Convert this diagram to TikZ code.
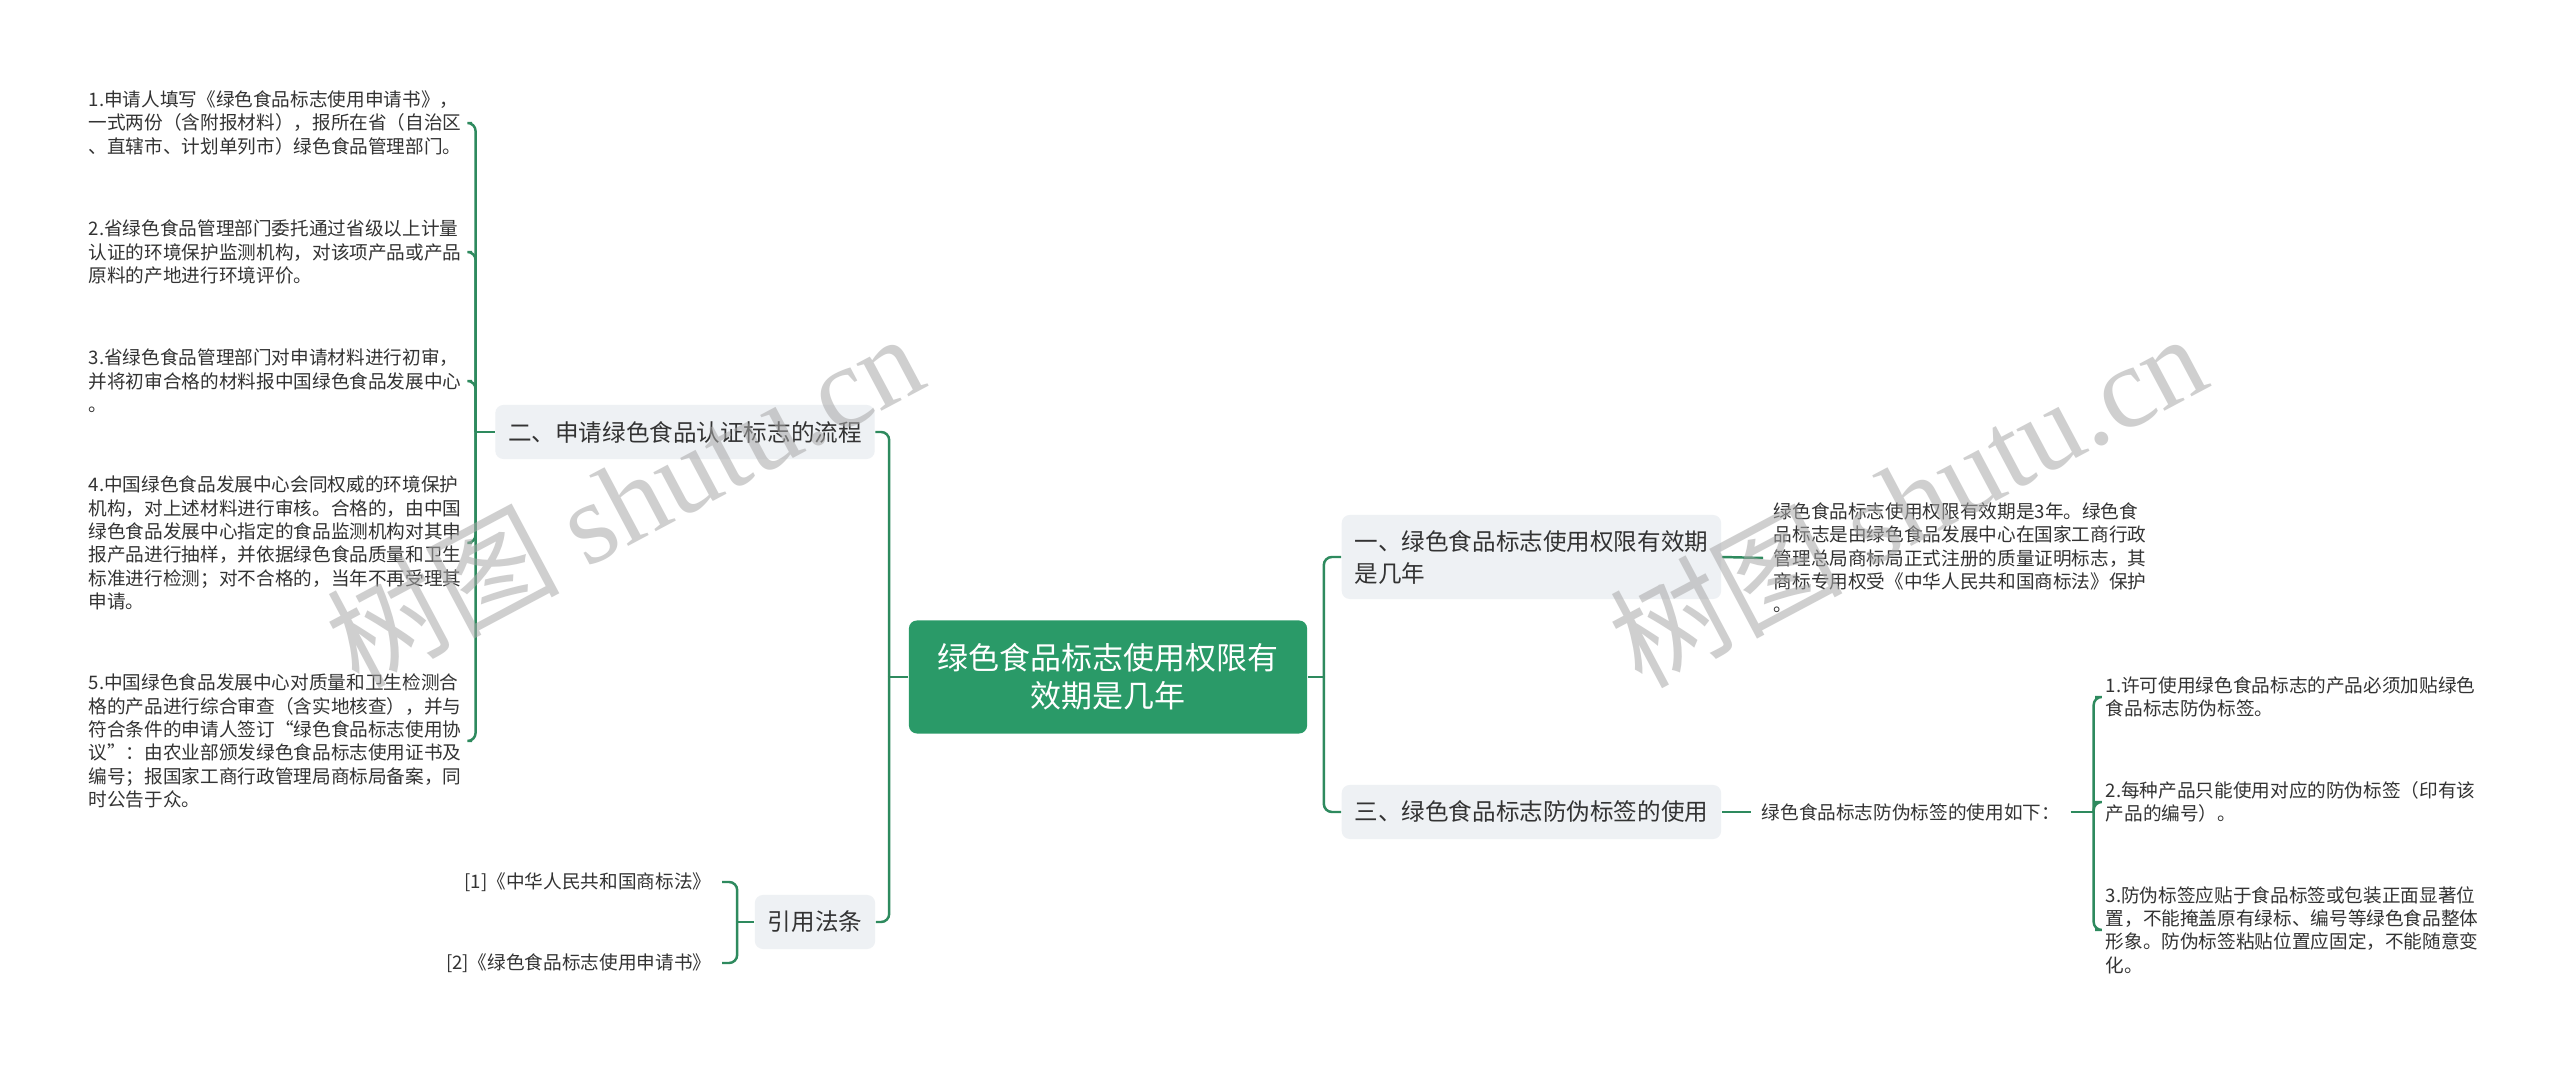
\documentclass[tikz,border=0pt]{standalone}
\usepackage{fontspec}
\setmainfont{Noto Sans CJK SC}
\newfontfamily\markserif{Liberation Serif}
\usetikzlibrary{positioning}
\definecolor{Ink}{HTML}{333333}
\definecolor{RootGreen}{HTML}{2A9A68}
\definecolor{LineGreen}{HTML}{2E8A5E}
\definecolor{TopicFill}{HTML}{EEF1F4}
\definecolor{MarkGray}{HTML}{A8A8A8}
\tikzset{
  rootbox/.style={
    rounded corners=2.3pt, fill=RootGreen, text=white, align=center,
    minimum width=3.98cm, minimum height=1.13cm, inner sep=0pt,
    font=\fontsize{8.8}{10.8}\selectfont
  },
  topic/.style={
    rounded corners=2.3pt, fill=TopicFill, text=Ink, align=left,
    minimum height=0.54cm, inner xsep=0.13cm, inner ysep=0pt,
    font=\fontsize{6.7}{9.1}\selectfont
  },
  leaf/.style={
    text=Ink, align=left, inner xsep=0.1cm, inner ysep=0pt,
    font=\fontsize{5.3}{6.63}\selectfont
  },
  link/.style={draw=LineGreen, line width=0.7pt},
  elbow/.style={link, rounded corners=2.3pt},
  wmark/.style={
    anchor=base west, inner sep=0pt, rotate=28, text=MarkGray,
    text opacity=0.55, font=\fontsize{33}{33}\selectfont
  }
}
\begin{document}
\begin{tikzpicture}[x=0.01cm,y=-0.01cm]
  \fill[white] (0,0) rectangle (2560,1065);
  % centre and main branches
  \node[rootbox] (root) at (1108,677) {绿色食品标志使用权限有\\效期是几年};
  \node[topic] (sec2) at (685,432) {二、申请绿色食品认证标志的流程};
  \node[topic] (cite) at (815,922) {引用法条};
  \node[topic,anchor=west,minimum height=0.84cm] (sec1) at (1341,557) {一、绿色食品标志使用权限有效期\\是几年};
  \node[topic,anchor=west] (sec3) at (1341,812) {三、绿色食品标志防伪标签的使用};
  % left leaves
  \node[leaf,anchor=west] (s1) at (78,123) {1.申请人填写《绿色食品标志使用申请书》，\\一式两份（含附报材料），报所在省（自治区\\、直辖市、计划单列市）绿色食品管理部门。};
  \node[leaf,anchor=west] (s2) at (78,252) {2.省绿色食品管理部门委托通过省级以上计量\\认证的环境保护监测机构，对该项产品或产品\\原料的产地进行环境评价。};
  \node[leaf,anchor=west] (s3) at (78,381) {3.省绿色食品管理部门对申请材料进行初审，\\并将初审合格的材料报中国绿色食品发展中心\\。};
  \node[leaf,anchor=west] (s4) at (78,543) {4.中国绿色食品发展中心会同权威的环境保护\\机构，对上述材料进行审核。合格的，由中国\\绿色食品发展中心指定的食品监测机构对其申\\报产品进行抽样，并依据绿色食品质量和卫生\\标准进行检测；对不合格的，当年不再受理其\\申请。};
  \node[leaf,anchor=west] (s5) at (78,741) {5.中国绿色食品发展中心对质量和卫生检测合\\格的产品进行综合审查（含实地核查），并与\\符合条件的申请人签订“绿色食品标志使用协\\议”：由农业部颁发绿色食品标志使用证书及\\编号；报国家工商行政管理局商标局备案，同\\时公告于众。};
  \node[leaf,anchor=east] (c1) at (722,882) {[1]《中华人民共和国商标法》};
  \node[leaf,anchor=east] (c2) at (722,963) {[2]《绿色食品标志使用申请书》};
  % right leaves
  \node[leaf,anchor=west] (n1) at (1763,558) {绿色食品标志使用权限有效期是3年。绿色食\\品标志是由绿色食品发展中心在国家工商行政\\管理总局商标局正式注册的质量证明标志，其\\商标专用权受《中华人民共和国商标法》保护\\。};
  \node[leaf,anchor=west] (mid) at (1751,812) {绿色食品标志防伪标签的使用如下：};
  \node[leaf,anchor=west] (t1) at (2095,697) {1.许可使用绿色食品标志的产品必须加贴绿色\\食品标志防伪标签。};
  \node[leaf,anchor=west] (t2) at (2095,802) {2.每种产品只能使用对应的防伪标签（印有该\\产品的编号）。};
  \node[leaf,anchor=west] (t3) at (2095,930) {3.防伪标签应贴于食品标签或包装正面显著位\\置，不能掩盖原有绿标、编号等绿色食品整体\\形象。防伪标签粘贴位置应固定，不能随意变\\化。};
  % connectors
  \draw[link] (root.west) -- ++(-19,0) coordinate (rl);
  \draw[elbow] (rl) |- (sec2.east);
  \draw[elbow] (rl) |- (cite.east);
  \draw[link] (root.east) -- ++(16,0) coordinate (rr);
  \draw[elbow] (rr) |- (sec1.west);
  \draw[elbow] (rr) |- (sec3.west);
  \draw[link] (sec2.west) -- ++(-19,0) coordinate (sl);
  \foreach \s in {s1,s2,s3,s4,s5}
    \draw[elbow] (sl) |- (\s.east);
  \draw[link] (cite.west) -- ++(-17,0) coordinate (cl);
  \foreach \c in {c1,c2}
    \draw[elbow] (cl) |- (\c.east);
  \draw[link] (sec1.east) -- (n1.west);
  \draw[link] (sec3.east) -- (mid.west);
  \draw[link] (mid.east) -- ++(23,0) coordinate (ml);
  \foreach \t in {t1,t2,t3}
    \draw[elbow] (ml) |- (\t.west);
  % watermark
  \node[wmark] (wm1) at (358,690) {树图 {\markserif shutu.cn}};
  \node[wmark] (wm2) at (1641,690) {树图 {\markserif shutu.cn}};
\end{tikzpicture}
\end{document}
